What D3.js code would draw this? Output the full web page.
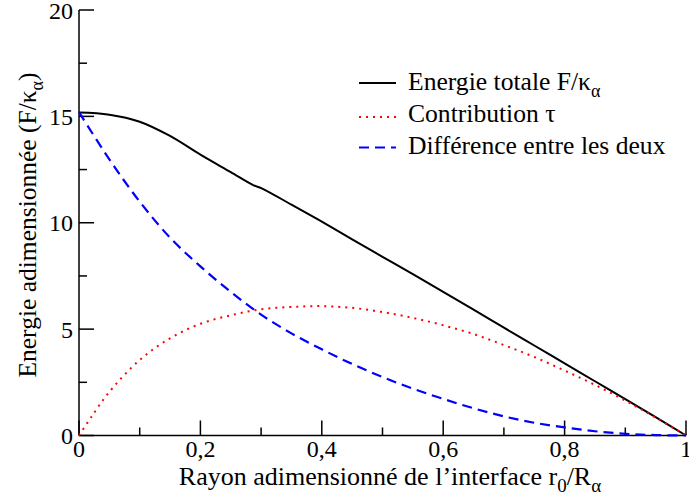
<!DOCTYPE html>
<html><head><meta charset="utf-8">
<script src="https://cdn.jsdelivr.net/npm/d3@7"></script>
<style>body{margin:0;background:#fff}</style>
</head><body><svg id="c" width="689" height="504" font-family="'Liberation Serif','Times New Roman',Times,serif" style="display:block"></svg>
<script>
const xTot = [0,0.05,0.1,0.15,0.2,0.25,0.287,0.301,0.35,0.4,0.45,0.5,0.55,0.6,0.65,0.7,0.75,0.8,0.85,0.9,0.95,1];
const total = [15.18,15.08,14.75,14.08,13.2,12.38,11.77,11.62,10.85,10.05,9.22,8.4,7.58,6.75,5.92,5.07,4.23,3.39,2.55,1.71,0.86,0];
const xTau = [0,0.02,0.05,0.1,0.15,0.2,0.25,0.3,0.35,0.4,0.45,0.5,0.55,0.6,0.65,0.7,0.75,0.8,0.85,0.9,0.95,1];
const tau = [0,0.86,2.05,3.55,4.57,5.25,5.65,5.93,6.04,6.08,6.0,5.8,5.53,5.18,4.77,4.25,3.69,3.05,2.38,1.64,0.84,0];
const xDiff = [0,0.05,0.1,0.15,0.2,0.25,0.3,0.35,0.4,0.45,0.5,0.55,0.6,0.65,0.7,0.75,0.8,0.85,0.9,0.95,1];
const diff = [15.2,12.98,10.99,9.3,7.95,6.75,5.68,4.8,4.05,3.36,2.75,2.2,1.72,1.28,0.9,0.6,0.38,0.2,0.08,0.02,0];
const xTickLabels = ["0","0,2","0,4","0,6","0,8","1"];
const yTickLabels = ["0","5","10","15","20"];
const legendLabels = ["Energie totale F/κ|α","Contribution τ","Différence entre les deux"];

const svg = d3.select("#c");
const x = d3.scaleLinear().domain([0,1]).range([79,686]);
const y = d3.scaleLinear().domain([0,20]).range([435.5,10]);

const ax = svg.append("g").attr("stroke","#000").attr("stroke-width",1.5);
ax.append("line").attr("x1",x(0)).attr("x2",x(1)).attr("y1",y(0)).attr("y2",y(0));
ax.append("line").attr("x1",x(0)).attr("x2",x(0)).attr("y1",y(0)).attr("y2",y(20));
d3.range(0,11).forEach(i=>{
  const v=i/10, major=i%2===0;
  ax.append("line").attr("x1",x(v)).attr("x2",x(v)).attr("y1",y(0)).attr("y2",y(0)-(major?15:8));
});
d3.range(0,9).forEach(i=>{
  const v=i*2.5, major=i%2===0;
  ax.append("line").attr("y1",y(v)).attr("y2",y(v)).attr("x1",x(0)).attr("x2",x(0)+(major?15:8));
});
xTickLabels.forEach((t,i)=>{
  svg.append("text").attr("x",x(i*0.2)).attr("y",457).attr("text-anchor","middle").attr("font-size",24).text(t);
});
yTickLabels.forEach((t,i)=>{
  svg.append("text").attr("x",73).attr("y",y(i*5)+8.5).attr("text-anchor","end").attr("font-size",24).text(t);
});

const xt = svg.append("text").attr("x",390).attr("y",485).attr("text-anchor","middle").attr("font-size",26);
xt.append("tspan").text("Rayon adimensionné de l’interface r");
xt.append("tspan").attr("dy",7).attr("font-size",19).text("0");
xt.append("tspan").attr("dy",-7).text("/R");
xt.append("tspan").attr("dy",7).attr("font-size",19).text("α");

const yt = svg.append("text").attr("transform","translate(36,225) rotate(-90)").attr("text-anchor","middle").attr("font-size",25.5);
yt.append("tspan").text("Energie adimensionnée (F/κ");
yt.append("tspan").attr("dy",7).attr("font-size",18).text("α");
yt.append("tspan").attr("dy",-7).text(")");

const line = d3.line().x(d=>x(d[0])).y(d=>y(d[1])).curve(d3.curveCatmullRom.alpha(0.5));
const series = [
  {xs:xTot, ys:total, color:"#000", dash:null, w:2},
  {xs:xTau, ys:tau, color:"#ff0000", dash:"2,5", w:2},
  {xs:xDiff, ys:diff, color:"#0000ff", dash:"10,6", w:2.2}
];
series.forEach(s=>{
  svg.append("path").attr("d",line(s.xs.map((v,i)=>[v,s.ys[i]]))).attr("fill","none")
    .attr("stroke",s.color).attr("stroke-width",s.w).attr("stroke-dasharray",s.dash);
});

const legLine=[83,117,147.5], legText=[90,122,154];
series.forEach((s,i)=>{
  svg.append("line").attr("x1",359).attr("x2",396).attr("y1",legLine[i]).attr("y2",legLine[i])
    .attr("stroke",s.color).attr("stroke-width",s.w).attr("stroke-dasharray",s.dash);
  const parts = legendLabels[i].split("|");
  const t = svg.append("text").attr("x",408).attr("y",legText[i]).attr("font-size",25.6);
  t.append("tspan").text(parts[0]);
  if(parts[1]) t.append("tspan").attr("dy",7).attr("font-size",18).text(parts[1]);
});
</script></body></html>
